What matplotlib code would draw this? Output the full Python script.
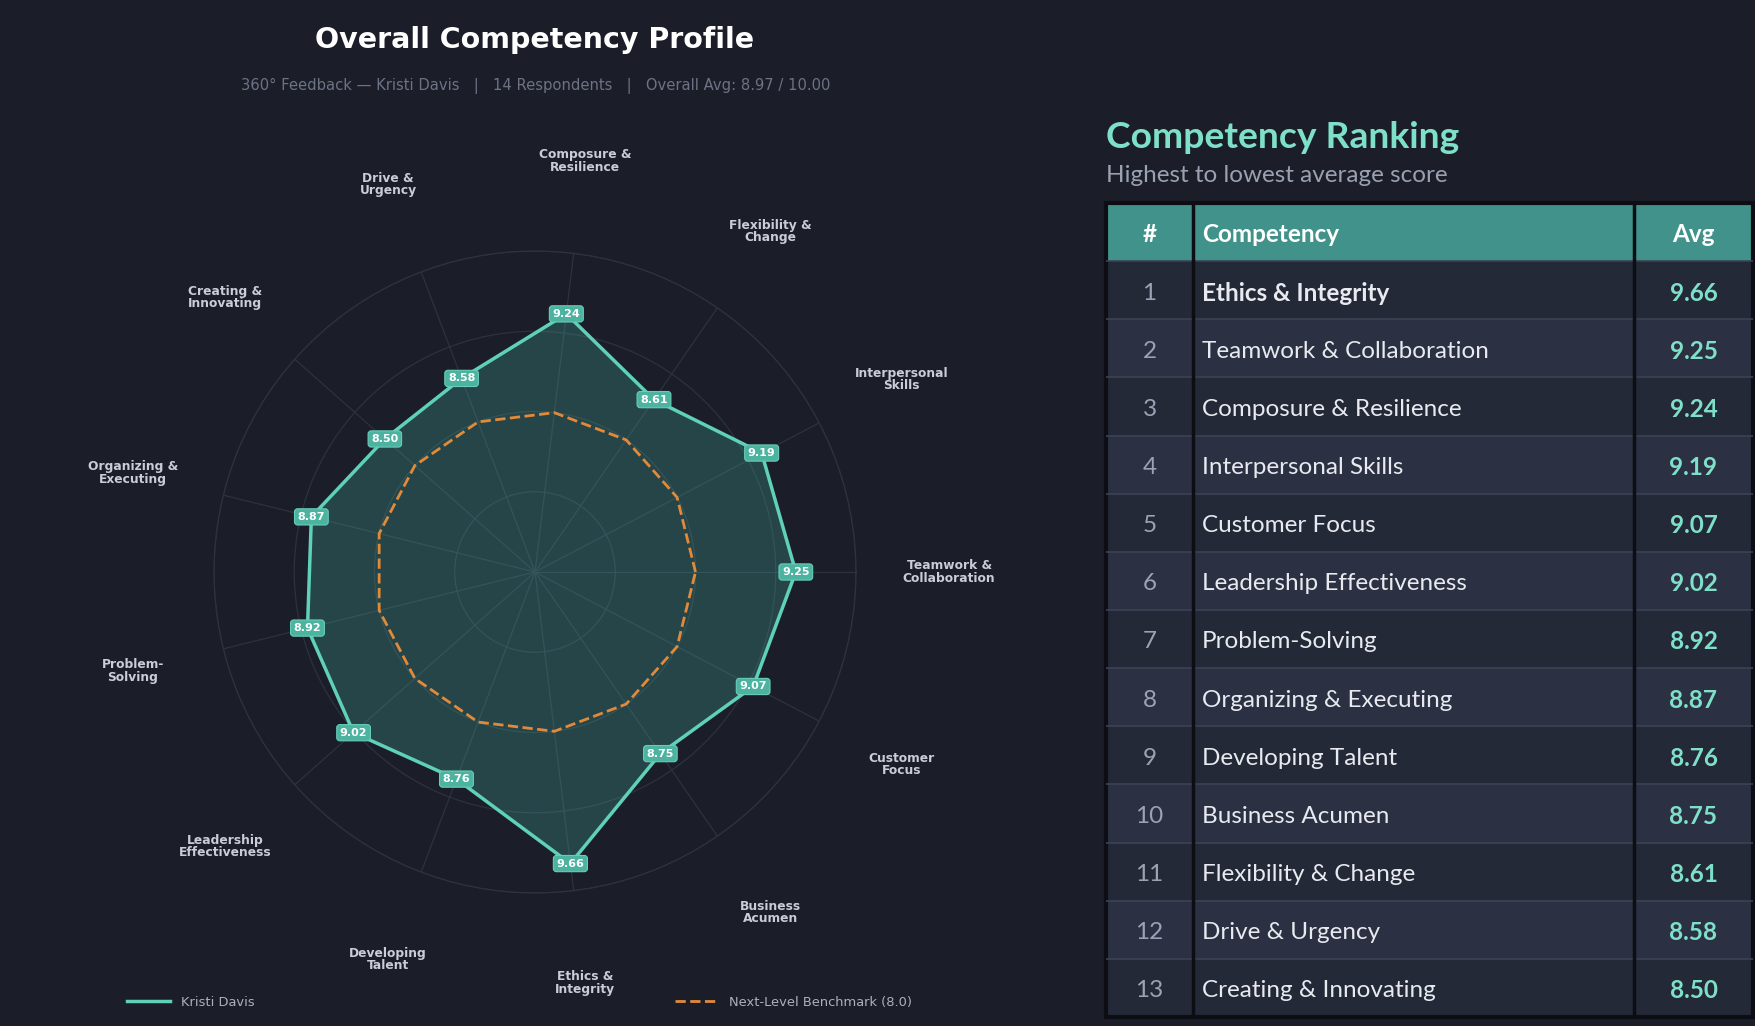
import textwrap
import numpy as np
import matplotlib.pyplot as plt

# radar order, counter-clockwise starting at 3 o'clock
competencies = ["Teamwork & Collaboration", "Interpersonal Skills", "Flexibility & Change",
                "Composure & Resilience", "Drive & Urgency", "Creating & Innovating",
                "Organizing & Executing", "Problem-Solving", "Leadership Effectiveness",
                "Developing Talent", "Ethics & Integrity", "Business Acumen", "Customer Focus"]
scores = [9.25, 9.19, 8.61, 9.24, 8.58, 8.50, 8.87, 8.92, 9.02, 8.76, 9.66, 8.75, 9.07]
benchmark = 8.0
person = "Kristi Davis"
n_respondents = 14
overall_avg = 8.97
rings = [7, 8, 9, 10]

BG = "#1b1e29"
TEAL = "#5fd1b8"
TEAL_BOX = "#4cb3a0"
ORANGE = "#e08a3a"
GRID = "#2c323e"

W, H = 1756, 1026
fig = plt.figure(figsize=(W / 100, H / 100), dpi=100, facecolor=BG)

# ---- radar ----
ax = fig.add_axes([214 / W, 133 / H, 642 / W, 642 / H], projection="polar")
ax.set_facecolor(BG)
n = len(scores)
ang = np.linspace(0, 2 * np.pi, n, endpoint=False)
ang_c = np.append(ang, ang[0])
sc_c = scores + scores[:1]

ax.fill(ang_c, sc_c, color="#47b0a0", alpha=0.27, zorder=2)
ax.plot(ang_c, sc_c, color=TEAL, lw=2.5, label=person, zorder=3)
ax.plot(ang_c, [benchmark] * (n + 1), color=ORANGE, lw=2, ls="--",
        label=f"Next-Level Benchmark ({benchmark:.1f})", zorder=3)

ax.set_ylim(6, 10)
ax.set_yticks(rings)
ax.set_yticklabels([])
ax.set_xticks(ang)
ax.set_xticklabels([])
ax.grid(color=GRID, lw=0.9)
ax.spines["polar"].set_color(GRID)
ax.spines["polar"].set_linewidth(0.9)

for a, s in zip(ang, scores):
    ax.text(a, s, f"{s:.2f}", ha="center", va="center", fontsize=8, weight="bold",
            color="white", zorder=5,
            bbox=dict(boxstyle="round,pad=0.28", fc=TEAL_BOX, ec="#68cdb8", lw=0.8))

for a, name in zip(ang, competencies):
    ax.text(a, 11.16, textwrap.fill(name, 13), ha="center", va="center", fontsize=8.8,
            weight="bold", color="#c9cdd6", linespacing=0.92, clip_on=False)

fig.text(535 / W, 1 - 40 / H, "Overall Competency Profile", ha="center", va="center",
         fontsize=20.5, weight="bold", color="white")
fig.text(536 / W, 1 - 86 / H,
         f"360\u00b0 Feedback \u2014 {person}   |   {n_respondents} Respondents   |   "
         f"Overall Avg: {overall_avg:.2f} / 10.00",
         ha="center", va="center", fontsize=10.6, color="#6b7385")

fig.legend(*ax.get_legend_handles_labels(), loc="center", bbox_to_anchor=(0.2957, 0.023),
           ncol=2, frameon=False, fontsize=9.4, labelcolor="#aab1bd", handlelength=3.35,
           columnspacing=32.2)

# ---- ranking table ----
TF = ["Lato", "DejaVu Sans"]
fig.text(1106 / W, 1 - 138 / H, "Competency Ranking", ha="left", va="center",
         fontsize=26.8, weight="bold", color="#7ee0c8", family=TF)
fig.text(1106 / W, 1 - 176 / H, "Highest to lowest average score", ha="left", va="center",
         fontsize=17.5, color="#9aa1b0", family=TF)

ranked = sorted(zip(scores, competencies), reverse=True)
tax = fig.add_axes([1106 / W, 9 / H, 647 / W, 814 / H])
tax.set_xlim(0, 1)
tax.set_ylim(len(ranked) + 1, 0)
tax.axis("off")
col_x = [0, 0.1345, 0.816, 1.0]
FS = 17.5
dy = 0.05

tax.add_patch(plt.Rectangle((0, 0), 1, 1, fc="#41928a", ec="none"))
for i in range(len(ranked)):
    fc = "#242938" if i % 2 == 0 else "#2b3142"
    tax.add_patch(plt.Rectangle((0, i + 1), 1, 1, fc=fc, ec="none"))
tax.hlines(range(1, len(ranked) + 1), 0, 1, color="#3a4254", lw=1.2)
tax.vlines(col_x[1:3], 0, len(ranked) + 1, color="#0c0e13", lw=2.5)
tax.add_patch(plt.Rectangle((0, 0), 1, len(ranked) + 1, fc="none", ec="#0c0e13", lw=3,
                            clip_on=False))

tax.text((col_x[0] + col_x[1]) / 2, 0.5 + dy, "#", ha="center", va="center", fontsize=FS,
         weight="bold", color="white", family=TF)
tax.text(col_x[1] + 0.014, 0.5 + dy, "Competency", ha="left", va="center", fontsize=FS,
         weight="bold", color="white", family=TF)
tax.text((col_x[2] + col_x[3]) / 2, 0.5 + dy, "Avg", ha="center", va="center", fontsize=FS,
         weight="bold", color="white", family=TF)
for i, (s, name) in enumerate(ranked):
    y = i + 1.5 + dy
    tax.text((col_x[0] + col_x[1]) / 2, y, str(i + 1), ha="center", va="center",
             fontsize=FS, color="#9aa3b5", family=TF)
    tax.text(col_x[1] + 0.014, y, name, ha="left", va="center", fontsize=FS,
             color="#e8eaf0", family=TF, weight="bold" if i == 0 else "normal")
    tax.text((col_x[2] + col_x[3]) / 2, y, f"{s:.2f}", ha="center", va="center",
             fontsize=FS, weight="bold", color="#7ee0c8", family=TF)

fig.savefig("out.png", dpi=100, facecolor=BG)
